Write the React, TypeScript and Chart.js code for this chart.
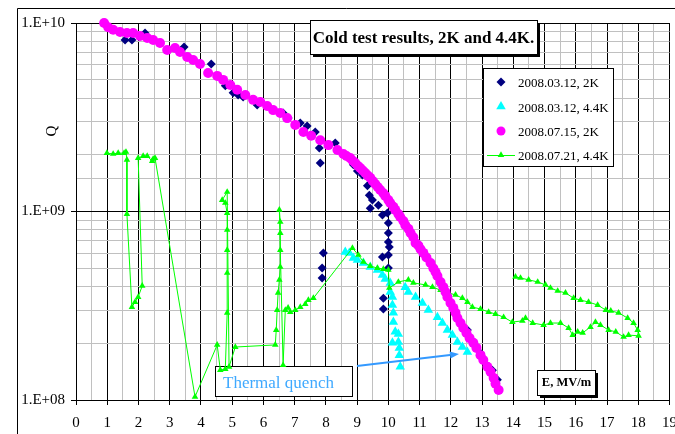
import React, { useEffect, useRef } from 'react';
import { Chart, registerables } from 'chart.js';

Chart.register(...registerables);

const FONT = '"Liberation Serif", "Times New Roman", serif';

const titleText = 'Cold test results, 2K and 4.4K.';
const xAxisTitle = 'E, MV/m';
const yAxisTitle = 'Q';
const noteText = 'Thermal quench';
const seriesNames = ['2008.03.12, 2K', '2008.03.12, 4.4K', '2008.07.15, 2K', '2008.07.21, 4.4K'];
const seriesColors = ['#000080', '#00FFFF', '#FF00FF', '#00FF00'];

const xTicksMin = 0;
const xTicksMax = 19;
const yMin = 1e8;
const yMax = 1e10;

// 2008.03.12, 2K
const navyE = [1.57, 1.79, 2.21, 3.46, 4.33, 4.78, 5.03, 5.19, 5.35, 5.80, 6.63, 6.79, 7.18, 7.40, 7.66, 7.79, 7.82, 8.30, 7.92, 7.88, 7.88, 8.88, 9.01, 9.17, 9.33, 9.39, 9.49, 9.42, 9.68, 9.81, 9.97, 10.0, 10.0, 10.0, 10.03, 10.0, 9.81, 10.0, 9.84, 9.84, 12.53, 12.95, 13.33, 13.49];
const navyQ = [8.13e9, 8.13e9, 8.85e9, 7.46e9, 6.06e9, 4.64e9, 4.26e9, 4.15e9, 4.05e9, 3.67e9, 3.33e9, 3.13e9, 2.95e9, 2.84e9, 2.64e9, 2.17e9, 1.81e9, 2.31e9, 6.03e8, 5.01e8, 4.44e8, 1.77e9, 1.64e9, 1.56e9, 1.37e9, 1.22e9, 1.15e9, 1.04e9, 1.08e9, 9.57e8, 9.82e8, 8.69e8, 7.69e8, 6.89e8, 6.49e8, 5.88e8, 5.74e8, 5.01e8, 3.47e8, 3.04e8, 2.35e8, 1.77e8, 1.44e8, 1.28e8];

// 2008.03.12, 4.4K
const cyanE = [8.62, 8.75, 8.88, 9.01, 9.20, 9.42, 9.65, 9.81, 9.90, 10.06, 10.06, 10.13, 10.13, 10.16, 10.16, 10.22, 10.13, 10.32, 10.32, 10.35, 10.35, 10.38, 10.54, 10.64, 10.87, 11.09, 11.28, 11.57, 11.73, 11.89, 12.05, 12.21, 12.37, 12.53];
const cyanQ = [6.10e8, 6.03e8, 5.67e8, 5.53e8, 5.33e8, 5.08e8, 4.90e8, 4.61e8, 4.39e8, 4.18e8, 3.74e8, 3.52e8, 3.19e8, 2.90e8, 2.59e8, 2.30e8, 2.01e8, 2.24e8, 2.03e8, 1.89e8, 1.73e8, 1.50e8, 3.97e8, 3.74e8, 3.52e8, 3.27e8, 3.00e8, 2.75e8, 2.56e8, 2.35e8, 2.21e8, 2.03e8, 1.91e8, 1.80e8];

// 2008.07.15, 2K
const pinkE = [0.90, 1.03, 1.19, 1.41, 1.63, 1.83, 2.05, 2.28, 2.47, 2.69, 2.92, 3.17, 3.33, 3.56, 3.75, 3.97, 4.23, 4.52, 4.71, 4.94, 5.16, 5.42, 5.67, 5.90, 6.12, 6.31, 6.54, 6.76, 7.02, 7.28, 7.53, 7.82, 8.08, 8.37, 8.56, 8.66, 8.78, 8.86, 8.94, 9.02, 9.10, 9.18, 9.26, 9.34, 9.42, 9.50, 9.58, 9.66, 9.74, 9.84, 9.90, 10.0, 10.06, 10.16, 10.22, 10.32, 10.38, 10.48, 10.54, 10.64, 10.71, 10.80, 10.87, 10.96, 11.03, 11.12, 11.22, 11.35, 11.44, 11.51, 11.57, 11.67, 11.76, 11.83, 11.89, 11.99, 12.08, 12.15, 12.21, 12.31, 12.40, 12.50, 12.60, 12.72, 12.82, 12.95, 13.04, 13.17, 13.27, 13.37, 13.43, 13.53];
const pinkQ = [1.0e10, 9.5e9, 9.2e9, 8.96e9, 8.85e9, 8.85e9, 8.53e9, 8.32e9, 8.12e9, 7.84e9, 7.19e9, 7.37e9, 7.02e9, 6.60e9, 6.37e9, 6.06e9, 5.43e9, 5.24e9, 4.99e9, 4.69e9, 4.42e9, 4.15e9, 3.91e9, 3.81e9, 3.63e9, 3.45e9, 3.33e9, 3.13e9, 2.88e9, 2.64e9, 2.52e9, 2.39e9, 2.25e9, 2.12e9, 2.02e9, 1.97e9, 1.92e9, 1.86e9, 1.81e9, 1.75e9, 1.70e9, 1.65e9, 1.60e9, 1.55e9, 1.51e9, 1.45e9, 1.40e9, 1.35e9, 1.30e9, 1.25e9, 1.21e9, 1.15e9, 1.11e9, 1.06e9, 1.02e9, 9.7e8, 9.35e8, 8.9e8, 8.47e8, 8.1e8, 7.69e8, 7.3e8, 6.81e8, 6.6e8, 6.3e8, 6.03e8, 5.7e8, 5.33e8, 5.0e8, 4.78e8, 4.55e8, 4.23e8, 3.97e8, 3.74e8, 3.52e8, 3.27e8, 3.08e8, 2.90e8, 2.72e8, 2.56e8, 2.41e8, 2.27e8, 2.13e8, 2.01e8, 1.89e8, 1.73e8, 1.63e8, 1.50e8, 1.41e8, 1.31e8, 1.22e8, 1.13e8];

// 2008.07.21, 4.4K (connected in measurement order)
const greenE = [0.99, 1.19, 1.35, 1.54, 1.60, 1.63, 1.63, 1.79, 1.89, 1.99, 2.12, 1.99, 2.15, 2.28, 2.44, 2.47, 2.53, 3.81, 4.52, 4.62, 4.78, 4.84, 4.84, 4.84, 4.84, 4.84, 4.78, 4.68, 4.84, 4.90, 5.10, 6.38, 6.41, 6.44, 6.47, 6.51, 6.54, 6.54, 6.54, 6.54, 6.51, 6.63, 6.70, 6.79, 6.86, 7.02, 7.18, 7.34, 7.44, 7.60, 8.85, 9.04, 9.20, 9.42, 9.65, 9.84, 10.0, 10.03, 10.32, 10.64, 10.80, 11.19, 11.41, 11.67, 11.92, 12.15, 12.37, 12.53, 12.69, 12.95, 13.21, 13.43, 13.69, 13.97, 14.29, 14.39, 14.62, 14.97, 15.19, 15.51, 15.77, 15.90, 16.06, 16.22, 16.47, 16.63, 16.79, 17.05, 17.28, 17.53, 17.69, 18.01, 17.98, 17.85, 17.66, 17.37, 17.12, 16.96, 16.70, 16.41, 16.15, 15.93, 15.67, 15.42, 15.19, 15.03, 14.78, 14.49, 14.23, 14.07];
const greenQ = [2.04e9, 2.02e9, 2.04e9, 2.04e9, 2.07e9, 1.88e9, 9.7e8, 3.11e8, 3.31e8, 3.52e8, 4.03e8, 1.92e9, 1.97e9, 1.97e9, 1.85e9, 1.90e9, 1.92e9, 1.04e8, 1.96e8, 1.44e8, 1.46e8, 2.90e8, 4.72e8, 6.25e8, 7.98e8, 9.82e8, 1.11e9, 1.15e9, 1.27e9, 1.50e8, 1.91e8, 1.96e8, 2.35e8, 3.00e8, 3.70e8, 4.34e8, 5.08e8, 6.25e8, 7.69e8, 8.80e8, 1.02e9, 1.53e8, 3.00e8, 3.08e8, 2.93e8, 3.00e8, 3.11e8, 3.23e8, 3.39e8, 3.47e8, 6.40e8, 5.88e8, 5.40e8, 5.14e8, 5.01e8, 4.95e8, 4.90e8, 3.93e8, 4.23e8, 4.34e8, 4.18e8, 4.08e8, 3.97e8, 3.83e8, 3.70e8, 3.61e8, 3.47e8, 3.31e8, 3.11e8, 3.04e8, 2.93e8, 2.86e8, 2.75e8, 2.59e8, 2.63e8, 2.72e8, 2.56e8, 2.50e8, 2.56e8, 2.56e8, 2.41e8, 2.21e8, 2.30e8, 2.27e8, 2.44e8, 2.59e8, 2.50e8, 2.35e8, 2.30e8, 2.16e8, 2.21e8, 2.19e8, 2.35e8, 2.56e8, 2.72e8, 2.90e8, 2.97e8, 3.00e8, 3.19e8, 3.31e8, 3.39e8, 3.47e8, 3.70e8, 3.79e8, 3.93e8, 4.08e8, 4.23e8, 4.34e8, 4.44e8, 4.50e8];

const toPts = (xs: number[], ys: number[]) => xs.map((x, i) => ({ x, y: ys[i] }));

const isPow10 = (v: number) => {
  const l = Math.log10(v);
  return Math.abs(l - Math.round(l)) < 1e-9;
};
const isInt = (v: number) => Math.abs(v - Math.round(v)) < 1e-9;
const fmtPow = (v: number) => '1.E+' + String(Math.round(Math.log10(v))).padStart(2, '0');

function drawDiamond(ctx: CanvasRenderingContext2D, x: number, y: number, r: number) {
  ctx.beginPath();
  ctx.moveTo(x, y - r);
  ctx.lineTo(x + r, y);
  ctx.lineTo(x, y + r);
  ctx.lineTo(x - r, y);
  ctx.closePath();
  ctx.fill();
}
function drawTriangle(ctx: CanvasRenderingContext2D, x: number, y: number, r: number) {
  ctx.beginPath();
  ctx.moveTo(x, y - r);
  ctx.lineTo(x + r * 0.866, y + r * 0.5);
  ctx.lineTo(x - r * 0.866, y + r * 0.5);
  ctx.closePath();
  ctx.fill();
}
function shadowBox(ctx: CanvasRenderingContext2D, x: number, y: number, w: number, h: number) {
  ctx.fillStyle = '#000';
  ctx.fillRect(x + 3, y + 3, w, h);
  ctx.fillStyle = '#fff';
  ctx.fillRect(x, y, w, h);
  ctx.strokeStyle = '#000';
  ctx.lineWidth = 1;
  ctx.strokeRect(x + 0.5, y + 0.5, w, h);
}

const decorPlugin = {
  id: 'decor',
  beforeDraw(chart: any) {
    const ctx = chart.ctx as CanvasRenderingContext2D;
    ctx.save();
    ctx.fillStyle = '#fff';
    ctx.fillRect(0, 0, chart.width, chart.height);
    ctx.strokeStyle = '#000';
    ctx.lineWidth = 1;
    ctx.beginPath();
    ctx.moveTo(17.5, chart.height);
    ctx.lineTo(17.5, 8.5);
    ctx.lineTo(chart.width, 8.5);
    ctx.stroke();
    ctx.restore();
  },
  beforeDatasetsDraw(chart: any) {
    const ctx = chart.ctx as CanvasRenderingContext2D;
    ctx.save();
    // Thermal quench note box
    ctx.fillStyle = '#fff';
    ctx.fillRect(215, 366, 137, 30);
    ctx.strokeStyle = '#000';
    ctx.lineWidth = 1;
    ctx.strokeRect(215.5, 366.5, 137, 30);
    ctx.fillStyle = '#3fa9ff';
    ctx.font = `17px ${FONT}`;
    ctx.textAlign = 'left';
    ctx.textBaseline = 'alphabetic';
    ctx.fillText(noteText, 223, 388);
    ctx.restore();
  },
  afterDraw(chart: any) {
    const ctx = chart.ctx as CanvasRenderingContext2D;
    ctx.save();
    // arrow
    const x1 = 357, y1 = 366, x2 = 459, y2 = 354;
    const ang = Math.atan2(y2 - y1, x2 - x1);
    const hl = 9, hw = 3.5;
    ctx.strokeStyle = '#3399ff';
    ctx.fillStyle = '#3399ff';
    ctx.lineWidth = 2;
    ctx.beginPath();
    ctx.moveTo(x1, y1);
    ctx.lineTo(x2 - hl * Math.cos(ang), y2 - hl * Math.sin(ang));
    ctx.stroke();
    ctx.beginPath();
    ctx.moveTo(x2, y2);
    ctx.lineTo(x2 - hl * Math.cos(ang) - hw * Math.sin(ang), y2 - hl * Math.sin(ang) + hw * Math.cos(ang));
    ctx.lineTo(x2 - hl * Math.cos(ang) + hw * Math.sin(ang), y2 - hl * Math.sin(ang) - hw * Math.cos(ang));
    ctx.closePath();
    ctx.fill();

    // x axis title box
    shadowBox(ctx, 537, 370, 58, 25);
    ctx.fillStyle = '#000';
    ctx.font = `bold 12.5px ${FONT}`;
    ctx.textAlign = 'center';
    ctx.textBaseline = 'alphabetic';
    ctx.fillText(xAxisTitle, 566.5, 386);

    // title box
    shadowBox(ctx, 310, 20, 227, 34);
    ctx.fillStyle = '#000';
    ctx.font = `bold 17px ${FONT}`;
    ctx.textAlign = 'center';
    ctx.fillText(titleText, 423.5, 43);

    // legend
    ctx.fillStyle = '#fff';
    ctx.fillRect(483, 68, 130, 98);
    ctx.strokeStyle = '#000';
    ctx.lineWidth = 1;
    ctx.strokeRect(483.5, 68.5, 130, 98);
    const rows = [82, 107, 131, 155];
    const mx = 501;
    ctx.fillStyle = seriesColors[0];
    drawDiamond(ctx, mx, rows[0], 4.5);
    ctx.fillStyle = seriesColors[1];
    drawTriangle(ctx, mx, rows[1] - 0.5, 5.5);
    ctx.fillStyle = seriesColors[2];
    ctx.beginPath();
    ctx.arc(mx, rows[2], 4.5, 0, Math.PI * 2);
    ctx.fill();
    ctx.strokeStyle = seriesColors[3];
    ctx.lineWidth = 1;
    ctx.beginPath();
    ctx.moveTo(487, rows[3] + 0.5);
    ctx.lineTo(515, rows[3] + 0.5);
    ctx.stroke();
    ctx.fillStyle = seriesColors[3];
    drawTriangle(ctx, mx, rows[3], 3.8);
    ctx.fillStyle = '#000';
    ctx.font = `13px ${FONT}`;
    ctx.textAlign = 'left';
    ctx.textBaseline = 'alphabetic';
    seriesNames.forEach((n, i) => ctx.fillText(n, 518, rows[i] + 4.5));

    // y axis title
    ctx.translate(52, 131);
    ctx.rotate(-Math.PI / 2);
    ctx.font = `15px ${FONT}`;
    ctx.textAlign = 'center';
    ctx.textBaseline = 'middle';
    ctx.fillText(yAxisTitle, 0, 0);
    ctx.restore();
  },
};

export default function App() {
  const ref = useRef<HTMLCanvasElement | null>(null);
  useEffect(() => {
    if (!ref.current) return;
    const chart = new Chart(ref.current, {
      type: 'scatter',
      data: {
        datasets: [
          {
            label: seriesNames[2],
            data: toPts(pinkE, pinkQ),
            pointStyle: 'circle',
            pointRadius: 5,
            backgroundColor: seriesColors[2],
            borderColor: seriesColors[2],
            borderWidth: 0,
            showLine: false,
            order: 0,
            clip: false,
          },
          {
            label: seriesNames[3],
            data: toPts(greenE, greenQ),
            pointStyle: 'triangle',
            pointRadius: 3.8,
            backgroundColor: seriesColors[3],
            borderColor: seriesColors[3],
            pointBorderWidth: 0,
            borderWidth: 1,
            showLine: true,
            tension: 0,
            order: 1,
            clip: false,
          },
          {
            label: seriesNames[1],
            data: toPts(cyanE, cyanQ),
            pointStyle: 'triangle',
            pointRadius: 5.5,
            backgroundColor: seriesColors[1],
            borderColor: seriesColors[1],
            borderWidth: 0,
            showLine: false,
            order: 2,
            clip: false,
          },
          {
            label: seriesNames[0],
            data: toPts(navyE, navyQ),
            pointStyle: 'rectRot',
            pointRadius: 4.5,
            backgroundColor: seriesColors[0],
            borderColor: seriesColors[0],
            borderWidth: 0,
            showLine: false,
            order: 3,
            clip: false,
          },
        ],
      },
      options: {
        animation: false,
        responsive: false,
        events: [],
        layout: { padding: { top: 23, right: 5, left: 0, bottom: 0 } },
        plugins: {
          legend: { display: false },
          tooltip: { enabled: false },
          title: { display: false },
        },
        scales: {
          x: {
            type: 'linear',
            min: xTicksMin,
            max: xTicksMax,
            afterFit: (s: any) => {
              s.height = 34;
              s.paddingLeft = 0;
              s.paddingRight = 0;
            },
            ticks: {
              stepSize: 0.5,
              autoSkip: false,
              maxRotation: 0,
              padding: 9,
              color: '#000',
              font: { family: FONT, size: 15 },
              callback: (v: any) => (isInt(Number(v)) ? String(Math.round(Number(v))) : ''),
            },
            grid: {
              lineWidth: 1,
              tickLength: 5,
              color: (c: any) => (c.tick && isInt(c.tick.value) ? '#000' : '#c0c0c0'),
              tickColor: (c: any) => (c.tick && isInt(c.tick.value) ? '#000' : 'rgba(0,0,0,0)'),
            },
            border: { display: true, color: '#000' },
          },
          y: {
            type: 'logarithmic',
            min: yMin,
            max: yMax,
            afterFit: (s: any) => {
              s.width = 76;
            },
            ticks: {
              autoSkip: false,
              padding: 6,
              color: '#000',
              font: { family: FONT, size: 15 },
              callback: (v: any) => (isPow10(Number(v)) ? fmtPow(Number(v)) : ''),
            },
            grid: {
              lineWidth: 1,
              tickLength: 5,
              color: (c: any) => (c.tick && isPow10(c.tick.value) ? '#000' : '#c0c0c0'),
              tickColor: (c: any) => (c.tick && isPow10(c.tick.value) ? '#000' : 'rgba(0,0,0,0)'),
            },
            border: { display: true, color: '#000' },
          },
        },
      },
      plugins: [decorPlugin],
    } as any);
    return () => chart.destroy();
  }, []);
  return (
    <div style={{ position: 'absolute', left: 0, top: 0, width: 675, height: 434 }}>
      <canvas ref={ref} width={675} height={434} style={{ display: 'block' }} />
    </div>
  );
}
